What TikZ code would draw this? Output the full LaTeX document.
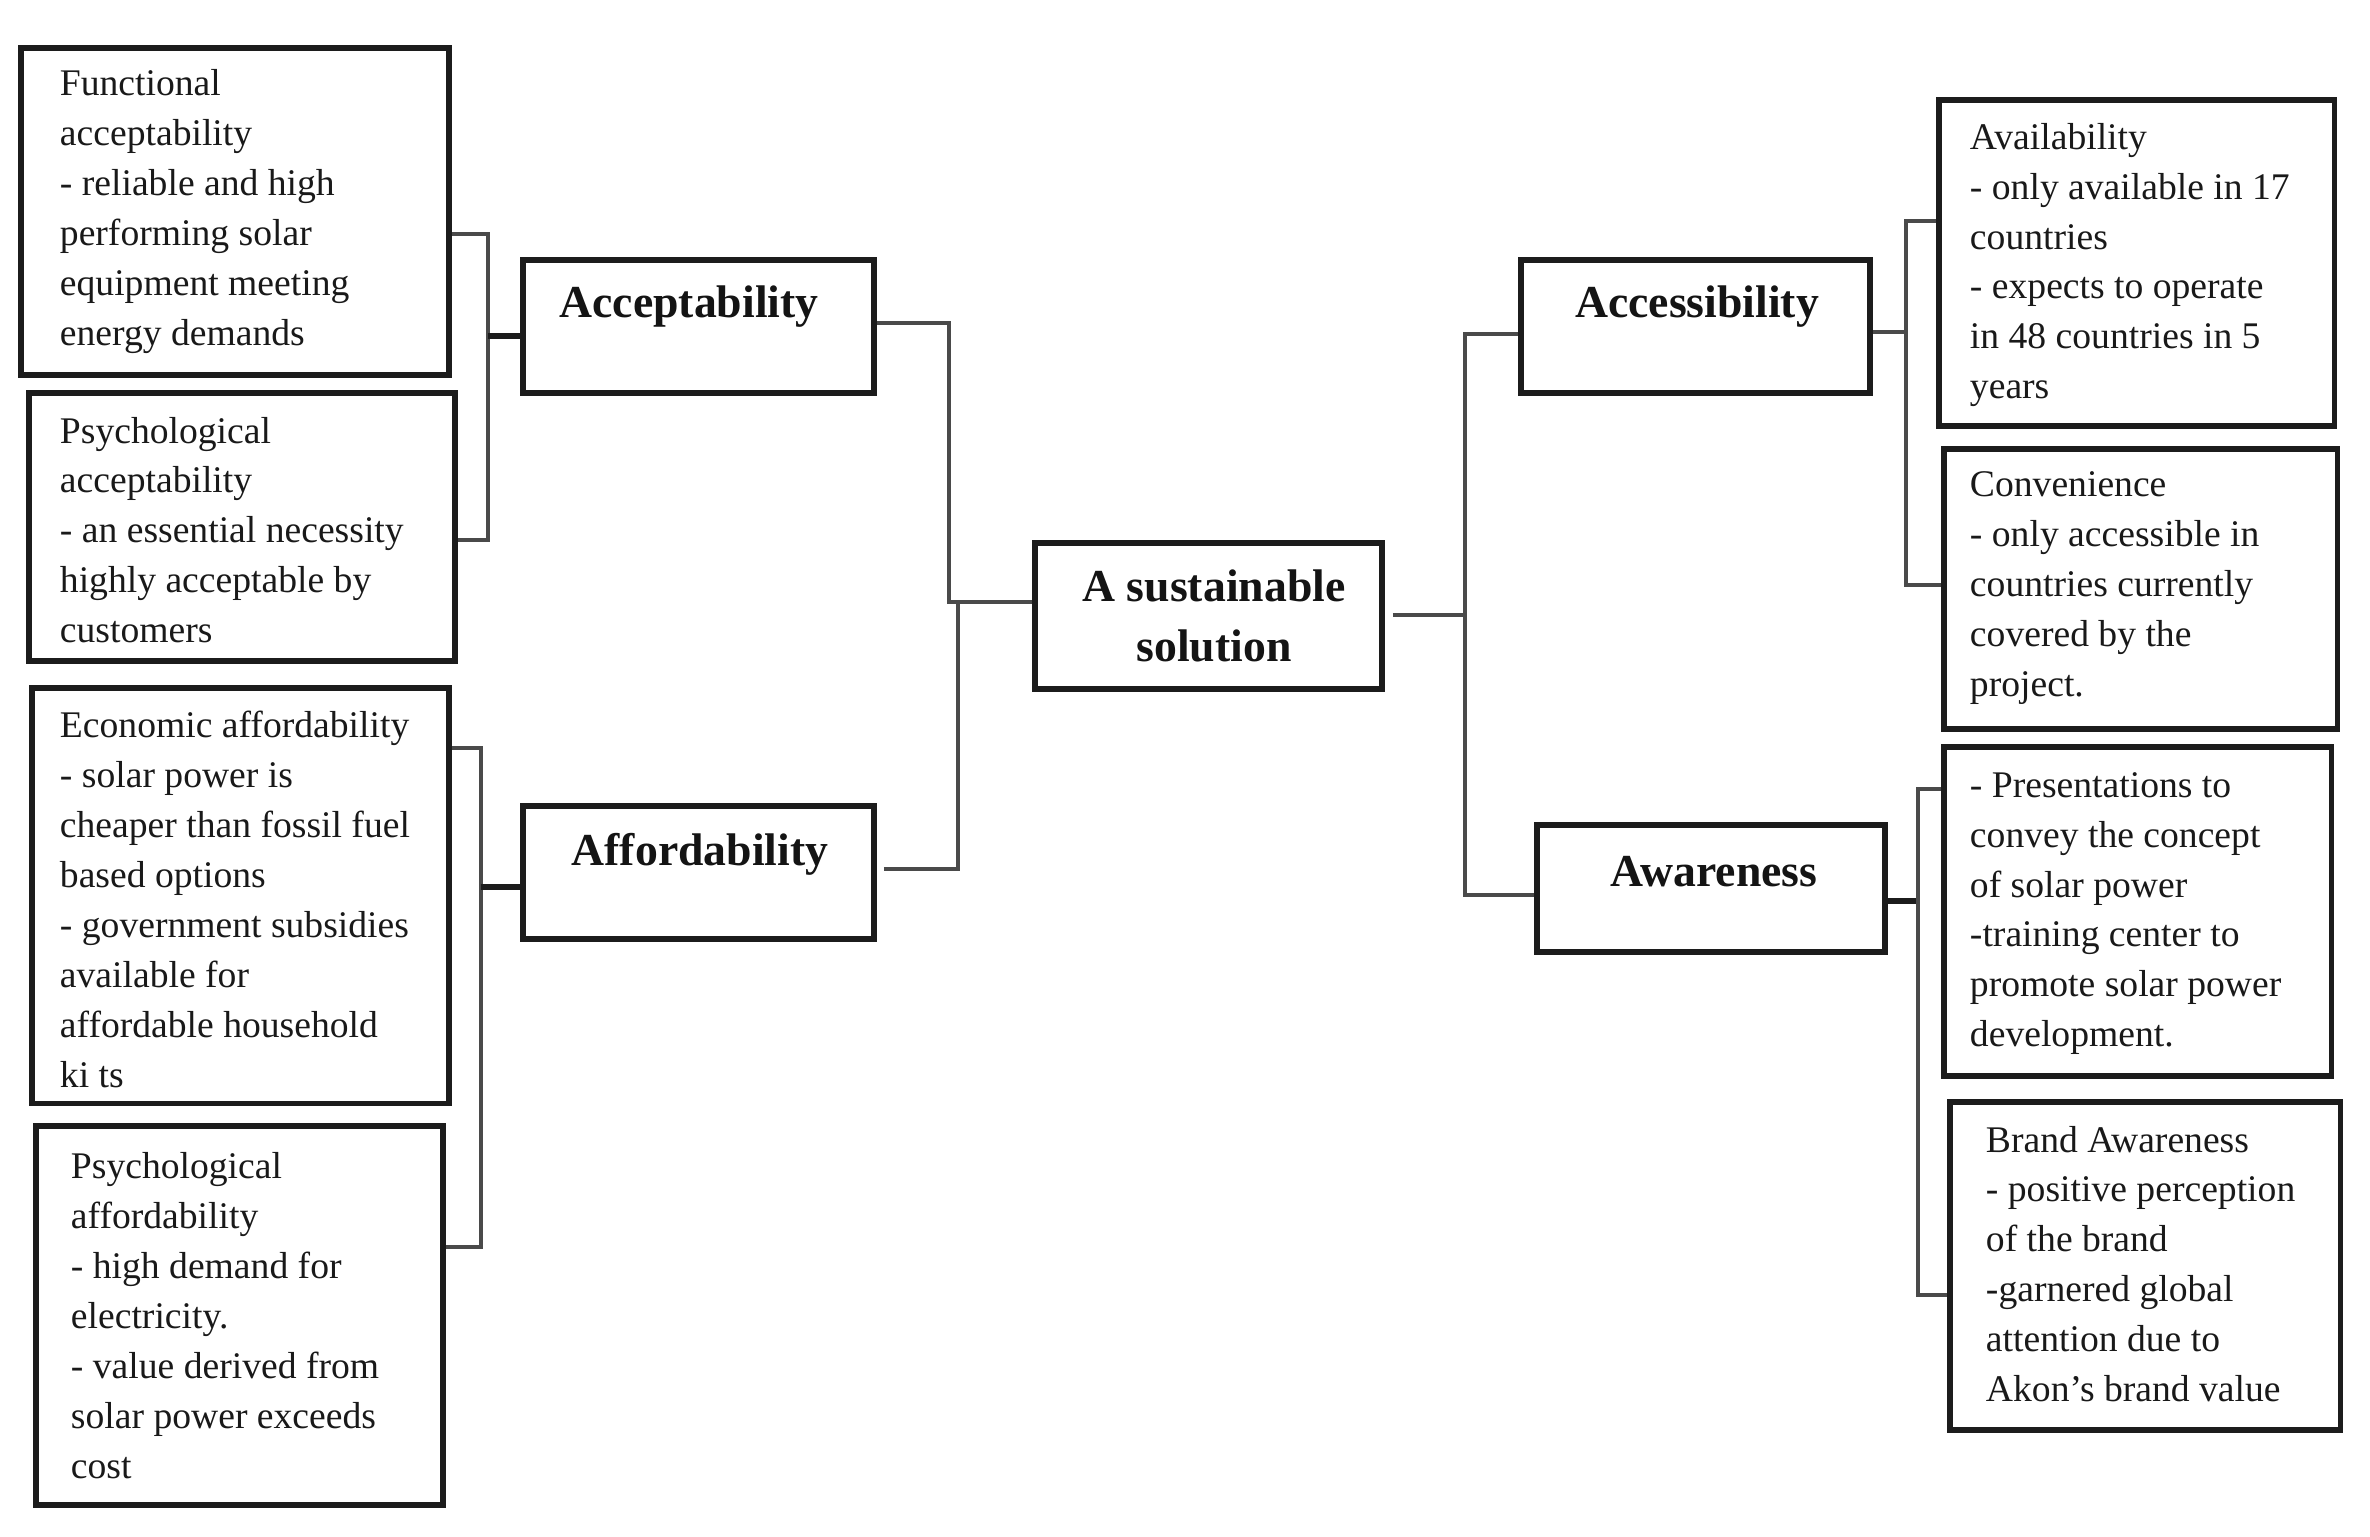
\documentclass[tikz,border=0pt]{standalone}
\usepackage{fontspec}
\setmainfont{Liberation Serif}
\usetikzlibrary{calc}
\definecolor{boxline}{HTML}{1C1C1C}
\definecolor{connline}{HTML}{4A4A4A}
\begin{document}
\begin{tikzpicture}[x=0.01cm,y=-0.01cm,
  sbox/.style={draw=boxline, line width=1.5pt, rectangle, inner sep=0pt},
  stext/.style={anchor=west, inner sep=0pt, align=left, font=\fontsize{10.7}{14.2}\selectfont, text=black!90},
  htext/.style={inner sep=0pt, align=center, font=\fontsize{13}{17}\selectfont\bfseries, text=black!92},
  conn/.style={draw=connline, line width=0.9pt},
  heavyconn/.style={draw=boxline, line width=1.7pt}
]
\useasboundingbox (0,0) rectangle (2370,1536);

% ---------- boxes ----------
\node[sbox, minimum width=4.28cm, minimum height=3.27cm] (fa) at (235,211.5) {};
\node[stext] (fat) at ($(fa.west)+(41,0)$) {Functional\\acceptability\\- reliable and high\\performing solar\\equipment meeting\\energy demands};

\node[sbox, minimum width=4.26cm, minimum height=2.68cm] (pa) at (242,527) {};
\node[stext] (pat) at ($(pa.west)+(33,3)$) {Psychological\\acceptability\\- an essential necessity\\highly acceptable by\\customers};

\node[sbox, minimum width=4.17cm, minimum height=4.15cm] (ea) at (240.5,895.5) {};
\node[stext] (eat) at ($(ea.west)+(30,4)$) {Economic affordability\\- solar power is\\cheaper than fossil fuel\\based options\\- government subsidies\\available for\\affordable household\\ki ts};

\node[sbox, minimum width=4.07cm, minimum height=3.79cm] (pf) at (239.5,1315.5) {};
\node[stext] (pft) at ($(pf.west)+(37,0)$) {Psychological\\affordability\\- high demand for\\electricity.\\- value derived from\\solar power exceeds\\cost};

\node[sbox, minimum width=3.51cm, minimum height=1.33cm] (acc) at (698.5,326.5) {};
\node[htext] (acct) at (689,307) {Acceptability};

\node[sbox, minimum width=3.51cm, minimum height=1.33cm] (aff) at (698.5,872.5) {};
\node[htext] (afft) at (700,854) {Affordability};

\node[sbox, minimum width=3.47cm, minimum height=1.46cm] (sol) at (1208.5,616) {};
\node[htext] (solt) at (1214,616) {A sustainable\\solution};

\node[sbox, minimum width=3.49cm, minimum height=1.33cm] (acs) at (1695.5,326.5) {};
\node[htext] (acst) at (1697,307) {Accessibility};

\node[sbox, minimum width=3.48cm, minimum height=1.27cm] (awa) at (1711,888.5) {};
\node[htext] (awat) at (1714,872) {Awareness};

\node[sbox, minimum width=3.95cm, minimum height=3.26cm] (av) at (2136.5,263) {};
\node[stext] (avt) at ($(av.west)+(33,2)$) {Availability\\- only available in 17\\countries\\- expects to operate\\in 48 countries in 5\\years};

\node[sbox, minimum width=3.93cm, minimum height=2.80cm] (cv) at (2140.5,589) {};
\node[stext] (cvt) at ($(cv.west)+(28,-1)$) {Convenience\\- only accessible in\\countries currently\\covered by the\\project.};

\node[sbox, minimum width=3.87cm, minimum height=3.29cm] (pr) at (2137.5,911.5) {};
\node[stext] (prt) at ($(pr.west)+(28,2)$) {- Presentations to\\convey the concept\\of solar power\\-training center to\\promote solar power\\development.};

\node[sbox, minimum width=3.90cm, minimum height=3.28cm] (br) at (2145,1266) {};
\node[stext] (brt) at ($(br.west)+(38,-2)$) {Brand Awareness\\- positive perception\\of the brand\\-garnered global\\attention due to\\Akon’s brand value};

% ---------- junction coordinates ----------
\coordinate (jA1) at (488,234);
\coordinate (jA2) at (488,540);
\coordinate (jA3) at (488,336);
\coordinate (jF1) at (481,748);
\coordinate (jF2) at (481,1247);
\coordinate (jF3) at (481,887);
\coordinate (jM1) at (949,323);
\coordinate (jM2) at (949,602);
\coordinate (jM3) at (958,869);
\coordinate (jM4) at (958,602);
\coordinate (jR0) at (1465,615);
\coordinate (jR1) at (1465,334);
\coordinate (jR2) at (1465,895);
\coordinate (jS0) at (1906,332);
\coordinate (jS1) at (1906,221);
\coordinate (jS2) at (1906,585);
\coordinate (jT0) at (1918,901);
\coordinate (jT1) at (1918,789);
\coordinate (jT2) at (1918,1295);

% ---------- connectors ----------
\draw[conn] (fa.east |- jA1) -- (jA1) -- (jA2) -- (pa.east |- jA2);
\draw[heavyconn] (jA3) -- (acc.west |- jA3);

\draw[conn] (ea.east |- jF1) -- (jF1) -- (jF2) -- (pf.east |- jF2);
\draw[heavyconn] (jF3) -- (aff.west |- jF3);

\draw[conn] (acc.east |- jM1) -- (jM1) -- (jM2) -- (sol.west |- jM2);
\draw[conn] ($(aff.east |- jM3)+(7,0)$) -- (jM3) -- (jM4);

\draw[conn] ($(sol.east |- jR0)+(8,0)$) -- (jR0);
\draw[conn] (acs.west |- jR1) -- (jR1) -- (jR2) -- (awa.west |- jR2);

\draw[conn] (acs.east |- jS0) -- (jS0);
\draw[conn] (av.west |- jS1) -- (jS1) -- (jS2) -- (cv.west |- jS2);

\draw[heavyconn] (awa.east |- jT0) -- (jT0);
\draw[conn] (pr.west |- jT1) -- (jT1) -- (jT2) -- (br.west |- jT2);
\end{tikzpicture}
\end{document}
